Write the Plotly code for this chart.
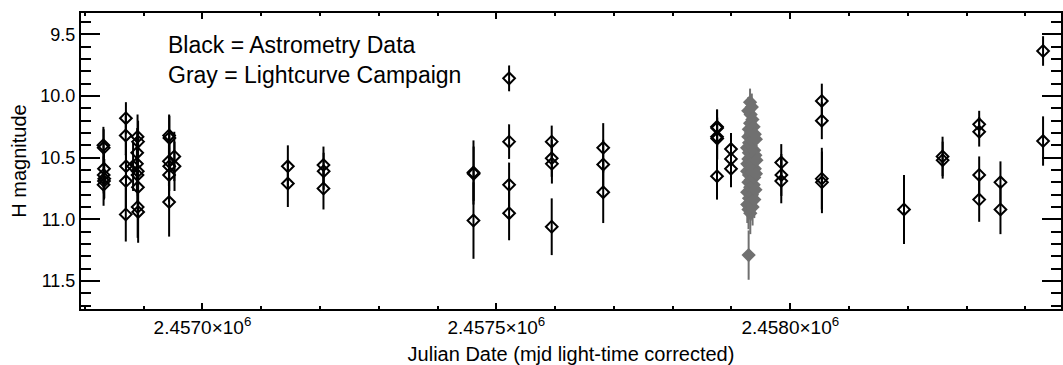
import plotly.graph_objects as go

# ---------------- data ----------------
jd_black = [
    2456831.5, 2456832.0, 2456832.5, 2456832.0, 2456833.0, 2456832.5, 2456831.8,
    2456869.8, 2456869.5, 2456870.0, 2456869.8, 2456869.6,
    2456889.6, 2456890.5, 2456889.0, 2456882.0, 2456888.5, 2456890.0, 2456889.5, 2456890.2, 2456889.8, 2456890.6,
    2456943.3, 2456943.8, 2456943.0, 2456943.5, 2456943.2, 2456943.3, 2456952.1, 2456952.5,
    2457145.3, 2457145.3,
    2457205.9, 2457206.2, 2457205.9,
    2457461.1, 2457461.4, 2457461.1,
    2457521.7, 2457521.7, 2457521.7, 2457521.7,
    2457594.2, 2457594.2, 2457594.5, 2457594.2,
    2457681.8, 2457681.8, 2457681.8,
    2457875.4, 2457875.6, 2457875.4, 2457875.7, 2457875.4,
    2457899.2, 2457899.2, 2457899.2,
    2457984.7, 2457984.9, 2457984.7,
    2458053.7, 2458053.7, 2458053.7, 2458053.9,
    2458193.5,
    2458259.1, 2458259.3,
    2458321.4, 2458321.4, 2458321.4, 2458321.4,
    2458357.6, 2458357.6,
    2458430.1, 2458430.1,
]
mag_black = [
    10.40, 10.42, 10.59, 10.64, 10.67, 10.69, 10.72,
    10.18, 10.32, 10.57, 10.69, 10.96,
    10.33, 10.37, 10.46, 10.57, 10.55, 10.61, 10.64, 10.74, 10.90, 10.94,
    10.32, 10.34, 10.53, 10.57, 10.64, 10.86, 10.49, 10.57,
    10.57, 10.71,
    10.56, 10.61, 10.75,
    10.62, 10.63, 11.01,
    9.857, 10.37, 10.72, 10.95,
    10.37, 10.505, 10.55, 11.06,
    10.42, 10.555, 10.78,
    10.25, 10.26, 10.33, 10.345, 10.65,
    10.43, 10.51, 10.59,
    10.54, 10.64, 10.69,
    10.04, 10.20, 10.67, 10.70,
    10.92,
    10.49, 10.52,
    10.23, 10.29, 10.64, 10.84,
    10.70, 10.92,
    9.635, 10.365,
]
err_black = [
    0.15, 0.15, 0.16, 0.15, 0.16, 0.15, 0.17,
    0.13, 0.16, 0.20, 0.22, 0.22,
    0.18, 0.17, 0.20, 0.20, 0.22, 0.20, 0.22, 0.22, 0.25, 0.25,
    0.17, 0.18, 0.20, 0.20, 0.22, 0.28, 0.20, 0.20,
    0.17, 0.19,
    0.15, 0.15, 0.17,
    0.26, 0.22, 0.31,
    0.105, 0.14, 0.18, 0.22,
    0.13, 0.15, 0.16, 0.23,
    0.20, 0.20, 0.25,
    0.14, 0.15, 0.16, 0.17, 0.19,
    0.13, 0.14, 0.15,
    0.15, 0.17, 0.18,
    0.14, 0.15, 0.25, 0.25,
    0.28,
    0.16, 0.15,
    0.11, 0.12, 0.15, 0.18,
    0.17, 0.20,
    0.12, 0.20,
]

jd_gray = [
    2457926.6, 2457926.7, 2457926.8, 2457926.9, 2457927.0,
    2457928.6, 2457928.7, 2457928.8, 2457928.9, 2457929.0,
    2457929.6, 2457929.7, 2457929.8, 2457929.9, 2457930.0,
    2457931.6, 2457931.7, 2457931.8, 2457931.9, 2457932.0,
    2457932.6, 2457932.7, 2457932.8, 2457932.9, 2457933.0,
    2457934.6, 2457934.7, 2457934.8, 2457934.9,
    2457935.6, 2457935.7, 2457935.8, 2457935.9,
    2457937.6, 2457937.7, 2457937.8,
    2457938.6, 2457938.7, 2457938.8,
    2457939.6, 2457939.7,
    2457940.6, 2457940.7,
    2457941.5, 2457941.6,
    2457942.4,
    2457929.2,
]
mag_gray = [
    10.42, 10.61, 10.78, 10.88, 10.55,
    10.12, 10.33, 10.51, 10.70, 10.92,
    10.27, 10.46, 10.64, 10.83, 10.38,
    10.05, 10.22, 10.57, 10.74, 10.95,
    10.15, 10.40, 10.68, 10.86, 10.30,
    10.09, 10.49, 10.62, 10.80,
    10.19, 10.36, 10.58, 10.90,
    10.25, 10.53, 10.72,
    10.44, 10.66, 10.84,
    10.31, 10.59,
    10.48, 10.76,
    10.35, 10.63,
    10.52,
    11.29,
]
err_gray = [
    0.12, 0.13, 0.14, 0.15, 0.12,
    0.11, 0.12, 0.13, 0.14, 0.16,
    0.12, 0.12, 0.13, 0.15, 0.12,
    0.11, 0.12, 0.13, 0.14, 0.17,
    0.11, 0.12, 0.14, 0.15, 0.12,
    0.11, 0.12, 0.13, 0.14,
    0.11, 0.12, 0.13, 0.15,
    0.12, 0.13, 0.14,
    0.12, 0.13, 0.15,
    0.12, 0.13,
    0.12, 0.14,
    0.12, 0.13,
    0.12,
    0.20,
]

x_tickvals = [2457000, 2457500, 2458000]
x_ticktext = ["2.4570×10<sup>6</sup>", "2.4575×10<sup>6</sup>", "2.4580×10<sup>6</sup>"]

FONT = "Liberation Sans, Arial, Helvetica, sans-serif"
GRAY = "rgb(112,112,112)"

fig = go.Figure()
fig.add_trace(go.Scatter(
    x=jd_gray, y=mag_gray, mode="markers",
    marker=dict(symbol="diamond", size=11, color=GRAY, line=dict(width=0)),
    error_y=dict(type="data", array=err_gray, visible=True, color=GRAY, thickness=2, width=0),
    showlegend=False,
))
fig.add_trace(go.Scatter(
    x=jd_black, y=mag_black, mode="markers",
    marker=dict(symbol="diamond-open", size=9, color="black", line=dict(width=2, color="black")),
    error_y=dict(type="data", array=err_black, visible=True, color="black", thickness=2, width=0),
    showlegend=False,
))

fig.add_annotation(xref="paper", yref="paper", x=0.0866, y=0.892, xanchor="left", yanchor="middle",
                   text="Black = Astrometry Data", showarrow=False,
                   font=dict(family=FONT, size=23, color="black"))
fig.add_annotation(xref="paper", yref="paper", x=0.0866, y=0.79, xanchor="left", yanchor="middle",
                   text="Gray = Lightcurve Campaign", showarrow=False,
                   font=dict(family=FONT, size=23, color="black"))

fig.update_layout(
    width=1063, height=365,
    margin=dict(l=81, r=0, t=13, b=56),
    paper_bgcolor="white", plot_bgcolor="white",
    font=dict(family=FONT, color="black"),
    xaxis=dict(
        range=[2456793.4, 2458460.6],
        showgrid=False, zeroline=False,
        showline=True, linecolor="black", linewidth=2, mirror="ticks",
        ticks="inside", ticklen=6, tickwidth=2, tickcolor="black",
        tickmode="array", tickvals=x_tickvals, ticktext=x_ticktext,
        tickfont=dict(family=FONT, size=19, color="black"),
        minor=dict(tickmode="linear", tick0=2456800, dtick=100, ticks="inside",
                   ticklen=3, tickwidth=2, tickcolor="black"),
        title=dict(text="Julian Date (mjd light-time corrected)",
                   font=dict(family=FONT, size=20, color="black"), standoff=12),
    ),
    yaxis=dict(
        range=[11.727, 9.327],
        showgrid=False, zeroline=False,
        showline=True, linecolor="black", linewidth=2, mirror="ticks",
        ticks="inside", ticklen=19, tickwidth=2, tickcolor="black",
        tickmode="linear", tick0=9.5, dtick=0.5, tickformat=".1f",
        tickfont=dict(family=FONT, size=18, color="black"),
        minor=dict(tickmode="linear", tick0=9.3, dtick=0.1, ticks="inside",
                   ticklen=10, tickwidth=2, tickcolor="black"),
        title=dict(text="H magnitude", font=dict(family=FONT, size=20, color="black"), standoff=8),
    ),
)

fig.write_html("out.html")
